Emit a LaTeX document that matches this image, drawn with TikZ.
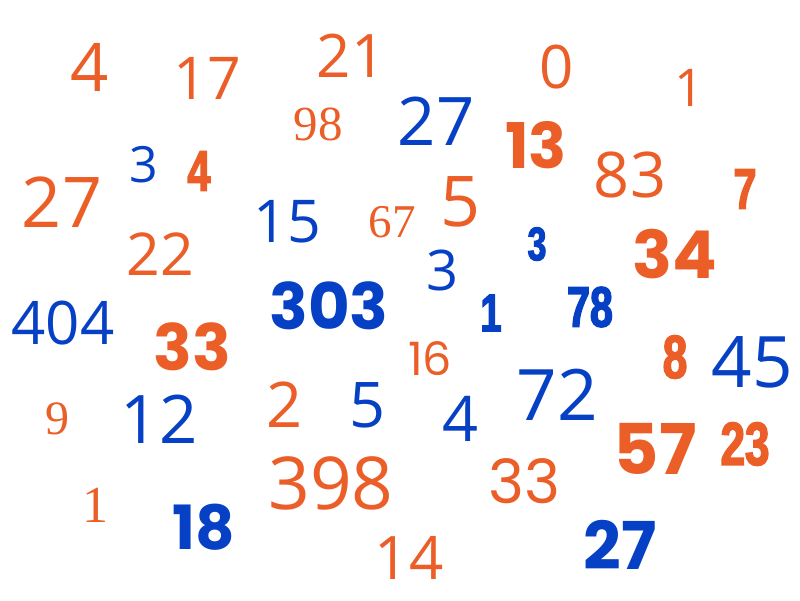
\documentclass[tikz,border=0pt]{standalone}
\usepackage{fontspec}
\newfontfamily\sansnum{Open Sans}
\newfontfamily\heavynum{Poppins}
\newfontfamily\condnum{Liberation Sans}[FakeStretch=0.72,FakeBold=2.5]
\newfontfamily\serifnum{Liberation Serif}
\newfontfamily\geonum{Poppins}
\definecolor{numorange}{RGB}{235,94,40}
\definecolor{numblue}{RGB}{6,64,196}
\newcommand\fsz[1]{\fontsize{#1}{#1}\selectfont}
\tikzset{
    og/.style={text=numorange},
    bl/.style={text=numblue},
    sn/.style={font=\sansnum\fsz{#1}},
    hv/.style={font=\heavynum\bfseries\fsz{#1}},
    cd/.style={font=\condnum\bfseries\fsz{#1}},
    sf/.style={font=\serifnum\fsz{#1}},
    gm/.style={font=\geonum\fsz{#1}}
}
\begin{document}
\begin{tikzpicture}[x=1pt,y=-1pt,every node/.style={inner sep=0pt,anchor=center}]
        \useasboundingbox (0,0) rectangle (800,600);
        % top rows
        \node[og,sn=67] (o4a)  at (90,67)   {4};
        \node[og,sn=59] (o17)  at (207,78)  {17};
        \node[og,sn=60] (o21)  at (351,56)  {21};
        \node[og,sf=49] (o98)  at (318,124) {98};
        \node[bl,sn=67] (b27a) at (436,121) {27};
        \node[og,sn=60] (o0)   at (557,67)  {0};
        \node[og,sn=52] (o1a)  at (689,88)  {1};
        \node[og,hv=63] (o13)  at (536,145) {13};
        \node[bl,sn=50] (b3a)  at (144,165) {3};
        \node[og,cd=57] (o4b)  at (199,171) {4};
        \node[og,sn=63] (o83)  at (630,175) {83};
        \node[og,cd=57] (o7)   at (745,189) {7};
        \node[og,sn=70] (o27)  at (62,202)  {27};
        \node[bl,sn=59] (b15)  at (287,222) {15};
        \node[og,sf=47] (o67)  at (392,222) {67};
        \node[og,sn=70] (o5)   at (461,202) {5};
        % middle rows
        \node[og,sn=59] (o22)  at (160,254) {22};
        \node[bl,cd=47] (b3b)  at (537,244) {3};
        \node[og,hv=66] (o34)  at (675,254) {34};
        \node[bl,sn=56] (b3c)  at (443,270) {3};
        \node[bl,hv=64] (b303) at (329,306) {303};
        \node[bl,cd=53] (b1)   at (491,313) {1};
        \node[bl,cd=57] (b78)  at (590,307) {78};
        \node[bl,sn=60] (b404) at (63,323)  {404};
        \node[og,hv=64] (o33a) at (192,347) {33};
        \node[og,gm=46] (o16)  at (430,359) {16};
        \node[og,cd=61] (o8)   at (675,357) {8};
        \node[bl,sn=71] (b45)  at (752,362) {45};
        \node[bl,sn=71] (b72)  at (557,395) {72};
        % bottom rows
        \node[og,sf=48] (o9)   at (57,419)  {9};
        \node[bl,sn=67] (b12)  at (159,419) {12};
        \node[og,sn=63] (o2)   at (285,405) {2};
        \node[bl,sn=63] (b5)   at (368,405) {5};
        \node[bl,sn=63] (b4)   at (461,419) {4};
        \node[og,hv=70] (o57)  at (655,449) {57};
        \node[og,cd=61] (o23)  at (745,444) {23};
        \node[og,sn=73] (o398) at (331,483) {398};
        \node[og,gm=61] (o33b) at (524,481) {33};
        \node[og,sf=52] (o1b)  at (95,505)  {1};
        \node[bl,hv=61] (b18)  at (204,527) {18};
        \node[bl,hv=66] (b27b) at (620,545) {27};
        \node[og,sn=60] (o14)  at (409,558) {14};
\end{tikzpicture}
\end{document}
